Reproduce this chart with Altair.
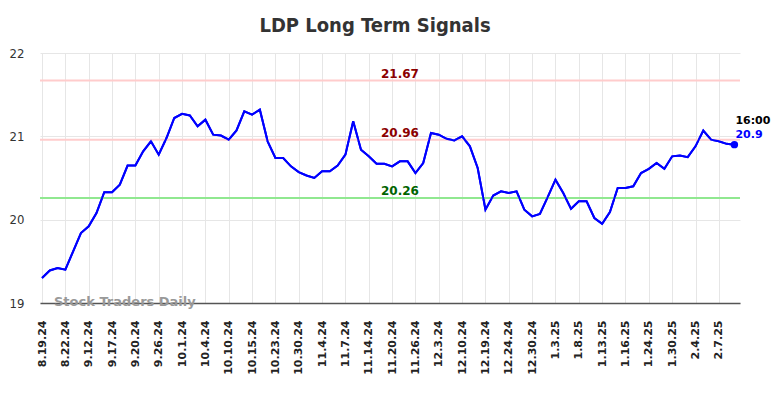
import altair as alt
import pandas as pd

tick_labels = ["8.19.24", "8.22.24", "9.12.24", "9.17.24", "9.20.24", "9.26.24",
               "10.1.24", "10.4.24", "10.10.24", "10.15.24", "10.23.24", "10.30.24",
               "11.4.24", "11.7.24", "11.14.24", "11.20.24", "11.26.24", "12.3.24",
               "12.10.24", "12.19.24", "12.24.24", "12.30.24", "1.3.25", "1.8.25",
               "1.13.25", "1.16.25", "1.24.25", "1.30.25", "2.4.25", "2.7.25"]

prices = [19.30, 19.39, 19.42, 19.40, 19.62, 19.84, 19.92, 20.08, 20.33, 20.33,
          20.42, 20.65, 20.65, 20.82, 20.94, 20.78, 20.98, 21.22, 21.27, 21.25,
          21.12, 21.20, 21.02, 21.01, 20.96, 21.07, 21.30, 21.26, 21.32, 20.94,
          20.74, 20.74, 20.64, 20.57, 20.53, 20.50, 20.58, 20.58, 20.65, 20.78,
          21.18, 20.84, 20.76, 20.67, 20.67, 20.64, 20.70, 20.70, 20.56, 20.68,
          21.04, 21.02, 20.97, 20.95, 21.00, 20.88, 20.62, 20.12, 20.29, 20.34,
          20.32, 20.34, 20.12, 20.04, 20.07, 20.27, 20.48, 20.32, 20.13, 20.22,
          20.22, 20.02, 19.95, 20.09, 20.38, 20.38, 20.40, 20.56, 20.61, 20.68,
          20.61, 20.76, 20.77, 20.75, 20.88, 21.07, 20.96, 20.94, 20.91, 20.90]

levels = [21.67, 20.96, 20.26]
level_text = ["21.67", "20.96", "20.26"]
level_line_colors = ["#ffcccc", "#ffcccc", "#90e890"]
level_text_colors = ["#8b0000", "#8b0000", "#006400"]

last_time = "16:00"
last_price_text = "20.9"

df = pd.DataFrame({"i": list(range(len(prices))), "price": prices})
lv = pd.DataFrame({"level": levels, "label": level_text,
                   "lc": level_line_colors, "tc": level_text_colors})
last = df.tail(1).copy()
last["time"] = last_time
last["ptxt"] = last_price_text

FONT = "DejaVu Sans"
label_expr = "[" + ",".join("'" + s + "'" for s in tick_labels) + "][round(datum.value/3)]"

xscale = alt.Scale(domain=[-0.26, 89.72], nice=False, zero=False)
yscale = alt.Scale(domain=[19, 22], nice=False, zero=False)

x_axis = alt.Axis(values=list(range(0, 3 * len(tick_labels), 3)), labelExpr=label_expr,
                  labelAngle=-90, labelFont=FONT, labelFontWeight="bold", labelFontSize=11,
                  labelColor="#222", labelPadding=17, ticks=False, domain=True,
                  domainColor="#555", domainWidth=1.5, grid=True, gridColor="#e6e6e6",
                  title=None, labelOverlap=False, labelBound=False, labelFlush=False)
y_axis = alt.Axis(values=[19, 20, 21, 22], format="d",
                  labelFont="DejaVu Sans Condensed, DejaVu Sans",
                  labelFontSize=13, labelColor="#333", labelPadding=16, ticks=False,
                  domain=False, grid=True, gridColor="#e6e6e6", title=None)

X = alt.X("i:Q", scale=xscale, axis=x_axis)
Y = alt.Y("price:Q", scale=yscale, axis=y_axis)
YL = alt.Y("level:Q", scale=yscale, axis=y_axis)

line = alt.Chart(df).mark_line(color="#0000ff", strokeWidth=2).encode(x=X, y=Y)

rules = alt.Chart(lv).mark_rule(strokeWidth=2).encode(
    y=YL,
    color=alt.Color("lc:N", scale=None),
)

rule_text = alt.Chart(lv).mark_text(font=FONT, fontWeight="bold", fontSize=12,
                                    baseline="alphabetic", dy=-3).encode(
    x=alt.value(360),
    y=YL,
    text="label:N",
    color=alt.Color("tc:N", scale=None),
)

line_top = alt.Chart(df).mark_line(color="#0000ff", strokeWidth=2).encode(x=X, y=Y)

dot = alt.Chart(last).mark_circle(color="#0000ff", size=55, opacity=1).encode(x=X, y=Y)

t_time = alt.Chart(last).mark_text(font=FONT, fontWeight="bold", fontSize=11, align="left",
                                   color="#000", dx=1, dy=-24).encode(x=X, y=Y, text="time:N")
t_price = alt.Chart(last).mark_text(font=FONT, fontWeight="bold", fontSize=11, align="left",
                                    color="#0000ff", dx=1, dy=-10).encode(x=X, y=Y, text="ptxt:N")

watermark = alt.Chart(df.head(1)).mark_text(font=FONT, fontWeight="bold", fontSize=13,
                                            align="left", color="#999", text="Stock Traders Daily").encode(
    x=alt.value(14),
    y=alt.value(249),
)

chart = alt.layer(line, rules, rule_text, line_top, dot, t_time, t_price, watermark).properties(
    width=700, height=250,
    title=alt.TitleParams("LDP Long Term Signals", font="DejaVu Sans Condensed, DejaVu Sans",
                          fontSize=20, fontWeight="bold", color="#333", anchor="middle",
                          dx=-15, offset=11),
    autosize=alt.AutoSizeParams(type="none"),
    padding={"left": 32, "top": 45, "right": 36, "bottom": 87},
).configure_view(stroke=None).configure_axisX(labelOverlap=False)

chart.save("out.html", embed_options={"renderer": "svg", "actions": False})
